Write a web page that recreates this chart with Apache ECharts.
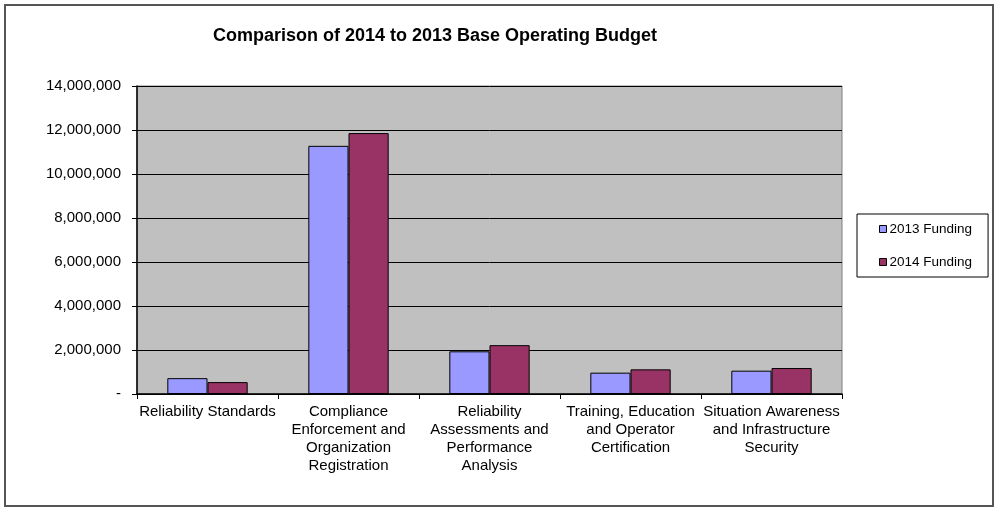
<!DOCTYPE html>
<html>
<head>
<meta charset="utf-8">
<script src="https://cdn.jsdelivr.net/npm/echarts@6/dist/echarts.min.js"></script>
<style>html,body{margin:0;padding:0;background:#fff}#c{width:996px;height:508px}</style>
</head>
<body>
<div id="c"></div>
<script>
const categories = [
  "Reliability Standards",
  "Compliance\nEnforcement and\nOrganization\nRegistration",
  "Reliability\nAssessments and\nPerformance\nAnalysis",
  "Training, Education\nand Operator\nCertification",
  "Situation Awareness\nand Infrastructure\nSecurity"
];
const funding2013 = [720000, 11280000, 1940000, 970000, 1060000];
const funding2014 = [540000, 11860000, 2220000, 1120000, 1180000];
const seriesNames = ["2013 Funding", "2014 Funding"];
const yTicks = { min: 0, max: 14000000, interval: 2000000 };
const titleText = "Comparison of 2014 to 2013 Base Operating Budget";

const FONT = "Liberation Sans, Arial, sans-serif";
const chart = echarts.init(document.getElementById('c'), null, { renderer: 'canvas' });
chart.setOption({
  animation: false,
  backgroundColor: '#ffffff',
  graphic: [
    { type: 'rect', shape: { x: 5, y: 5, width: 988, height: 501 }, style: { fill: 'none', stroke: '#555', lineWidth: 2 }, z: 0 },
    { type: 'text', style: { x: 435, y: 36, text: titleText, align: 'center', verticalAlign: 'middle', font: 'bold 18px ' + FONT, fill: '#000' }, z: 10 }
  ],
  legend: {
    orient: 'vertical',
    left: 857, top: 214,
    data: seriesNames,
    icon: 'rect',
    itemWidth: 7, itemHeight: 7,
    itemGap: 19,
    padding: [8, 16, 8, 22],
    borderColor: '#000', borderWidth: 1,
    backgroundColor: '#fff',
    itemStyle: { borderColor: '#000', borderWidth: 1 },
    textStyle: { fontFamily: FONT, fontSize: 13.5, color: '#000', lineHeight: 14, padding: [0, 0, 0, -2] }
  },
  grid: {
    left: 137, right: 154, top: 86, bottom: 114,
    show: true, backgroundColor: '#C0C0C0', borderColor: '#808080', borderWidth: 1,
    containLabel: false
  },
  xAxis: {
    type: 'category',
    data: categories,
    axisLine: { show: true, lineStyle: { color: '#000', width: 1.5 } },
    axisTick: { show: true, alignWithLabel: false, length: 5, lineStyle: { color: '#000' } },
    axisLabel: { interval: 0, margin: 9, fontFamily: FONT, fontSize: 15, color: '#000', lineHeight: 18, align: 'center' },
    splitLine: { show: false }
  },
  yAxis: {
    type: 'value',
    min: yTicks.min, max: yTicks.max, interval: yTicks.interval,
    axisLine: { show: true, lineStyle: { color: '#000', width: 1.5 } },
    axisTick: { show: true, length: 5, lineStyle: { color: '#000' } },
    axisLabel: {
      margin: 16, fontFamily: FONT, fontSize: 15, color: '#000',
      formatter: v => v === 0 ? '-' : v.toLocaleString('en-US')
    },
    splitLine: { show: true, lineStyle: { color: '#000', width: 1 } }
  },
  series: [
    { name: seriesNames[0], type: 'bar', data: funding2013, barGap: '0%', barCategoryGap: '43%',
      itemStyle: { color: '#9999FF', borderColor: '#000', borderWidth: 1 } },
    { name: seriesNames[1], type: 'bar', data: funding2014, barGap: '0%', barCategoryGap: '43%',
      itemStyle: { color: '#993366', borderColor: '#000', borderWidth: 1 } }
  ]
});
</script>
</body>
</html>
